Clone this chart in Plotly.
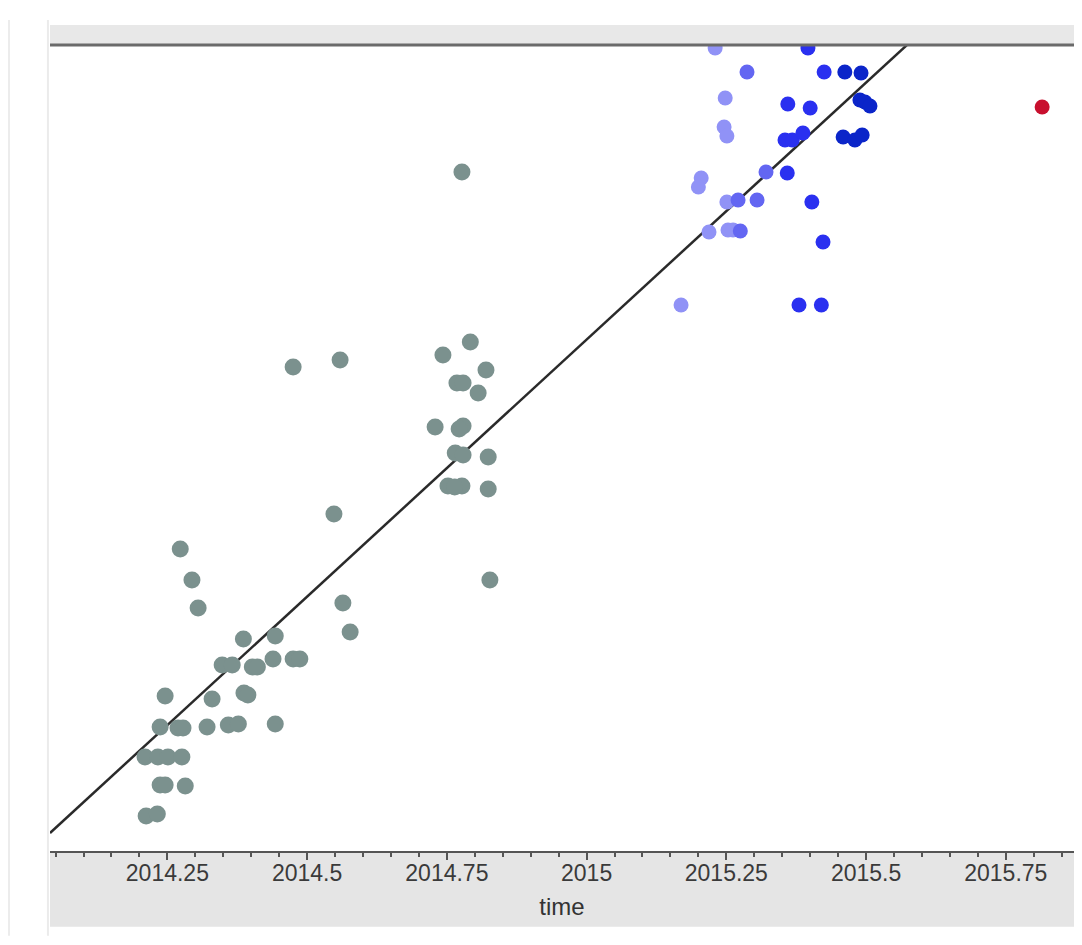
import plotly.graph_objects as go

# ---- data (x = time in years, y = value in chart units) ----
gray_x = [2014.273, 2014.294, 2014.305, 2014.386, 2014.443, 2014.564, 2014.577,
          2014.348, 2014.366, 2014.402, 2014.411, 2014.439, 2014.475, 2014.487,
          2014.246, 2014.330, 2014.387, 2014.394,
          2014.237, 2014.269, 2014.278, 2014.321, 2014.359, 2014.377, 2014.443,
          2014.210, 2014.233, 2014.251, 2014.276,
          2014.237, 2014.246, 2014.282, 2014.212, 2014.232,
          2014.475, 2014.559, 2014.548,
          2014.792, 2014.743, 2014.820, 2014.768, 2014.779, 2014.806,
          2014.729, 2014.779, 2014.772, 2014.765, 2014.779, 2014.824,
          2014.752, 2014.777, 2014.764, 2014.824, 2014.827, 2014.777]
gray_y = [302, 271, 243, 212, 215, 248, 219,
          186, 186, 184, 184, 192, 192, 192,
          155, 152, 158, 156,
          124, 123, 123, 124, 126, 127, 127,
          94, 94, 94, 94,
          66, 66, 65, 35, 37,
          484, 491, 337,
          509, 496, 481, 468, 468, 458,
          424, 425, 422, 398, 396, 394,
          365, 365, 364, 362, 271, 679]

light_x = [2015.230, 2015.248, 2015.246, 2015.251, 2015.205, 2015.200,
           2015.251, 2015.219, 2015.253, 2015.262, 2015.169]
light_y = [803, 753, 724, 715, 673, 664, 649, 619, 621, 621, 546]

midlight_x = [2015.287, 2015.271, 2015.305, 2015.275, 2015.321]
midlight_y = [779, 651, 651, 620, 679]

mid_x = [2015.396, 2015.425, 2015.360, 2015.400, 2015.355, 2015.368,
         2015.387, 2015.359, 2015.403, 2015.423, 2015.380, 2015.420]
mid_y = [803, 779, 747, 743, 711, 711, 718, 678, 649, 609, 546, 546]

dark_x = [2015.462, 2015.491, 2015.489, 2015.498, 2015.507, 2015.459, 2015.480, 2015.493]
dark_y = [779, 778, 751, 749, 745, 714, 711, 716]

red_x = [2015.815]
red_y = [744]

# fitted line: value at 2015 and slope per year
fit_at_2015 = 511.4
fit_slope = 514.0

x_range = [2014.040, 2015.872]
y_range = [0, 806]
tick_vals = [2014.25, 2014.5, 2014.75, 2015, 2015.25, 2015.5, 2015.75]
tick_text = ["2014.25", "2014.5", "2014.75", "2015", "2015.25", "2015.5", "2015.75"]

fig = go.Figure()

line_x = x_range
line_y = [fit_at_2015 + fit_slope * (v - 2015) for v in line_x]
fig.add_trace(go.Scatter(x=line_x, y=line_y, mode="lines",
                         line=dict(color="#2a2a2a", width=2.5), hoverinfo="skip"))

def dots(xs, ys, color, size):
    fig.add_trace(go.Scatter(x=xs, y=ys, mode="markers",
                             marker=dict(color=color, size=size, line=dict(width=0))))

dots(gray_x, gray_y, "#7b918e", 17)
dots(light_x, light_y, "#9092f6", 15)
dots(midlight_x, midlight_y, "#6366f2", 15)
dots(mid_x, mid_y, "#2a30f0", 15)
dots(dark_x, dark_y, "#0b25c9", 15)
dots(red_x, red_y, "#c8102e", 15)

shapes = [
    # top grey strip
    dict(type="rect", xref="paper", yref="paper", x0=0, x1=1, y0=1.0, y1=1.0248,
         fillcolor="#e8e8e8", line=dict(width=0), layer="below"),
    # top dark line
    dict(type="line", xref="paper", yref="paper", x0=0, x1=1, y0=1.0, y1=1.0,
         line=dict(color="#6a6a6a", width=3)),
    # bottom grey band
    dict(type="rect", xref="paper", yref="paper", x0=0, x1=1, y0=-0.094, y1=0,
         fillcolor="#e5e5e5", line=dict(width=0), layer="below"),
    # left faint vertical rules
    dict(type="line", xref="paper", yref="paper", x0=-0.002, x1=-0.002, y0=-0.105, y1=1.031,
         line=dict(color="#ebebeb", width=2)),
    dict(type="line", xref="paper", yref="paper", x0=-0.040, x1=-0.040, y0=-0.105, y1=1.031,
         line=dict(color="#ececec", width=2)),
]

fig.update_layout(
    width=1066, height=928, autosize=False,
    margin=dict(l=42, r=0, t=37, b=85),
    paper_bgcolor="white", plot_bgcolor="white",
    showlegend=False,
    shapes=shapes,
    font=dict(family="Liberation Sans, Arial, sans-serif", color="#333333"),
)
fig.update_xaxes(
    range=x_range, showgrid=False, zeroline=False,
    showline=True, linecolor="#555555", linewidth=2,
    ticks="outside", ticklen=7, tickwidth=2, tickcolor="#555555",
    tickvals=tick_vals, ticktext=tick_text, tickfont=dict(size=23, color="#3a3a3a"),
    ticklabelstandoff=-7,
    minor=dict(dtick=0.05, tick0=2014, ticks="outside", ticklen=4, tickwidth=1.5, tickcolor="#555555"),
    title=dict(text="time", font=dict(size=24, color="#333333"), standoff=14),
)
fig.update_yaxes(range=y_range, showgrid=False, zeroline=False, showticklabels=False,
                 showline=False, ticks="")

fig.write_html("out.html")
